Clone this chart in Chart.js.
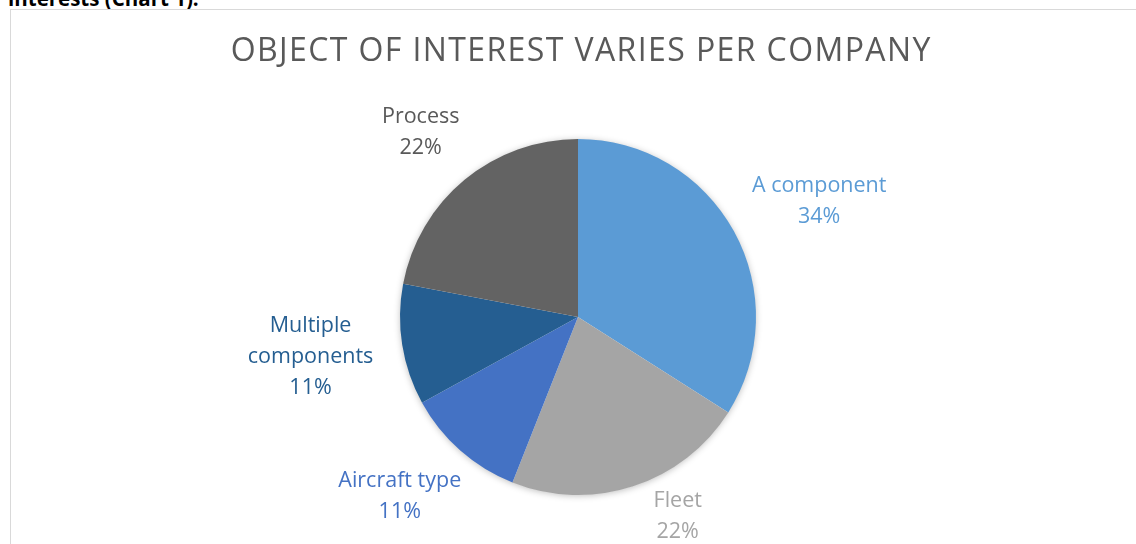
<!DOCTYPE html>
<html>
<head>
<meta charset="utf-8">
<script src="https://cdn.jsdelivr.net/npm/chart.js@4.4.1/dist/chart.umd.min.js"></script>
<style>
  html, body { margin: 0; padding: 0; background: #fff; overflow: hidden; }
  body { width: 1136px; height: 544px; position: relative; font-family: "Open Sans", sans-serif; }
  #lead { position: absolute; left: 8px; top: -16.4px; font-size: 20.5px; font-weight: bold; color: #000; white-space: nowrap; }
  #frame { position: absolute; left: 10px; top: 9px; width: 1140px; height: 560px; border: 1px solid #d9d9d9; box-sizing: border-box; }
  #wrap { position: absolute; left: 0; top: 0; width: 1136px; height: 544px; }
</style>
</head>
<body>
<div id="lead">interests (Chart 1).</div>
<div id="frame"></div>
<div id="wrap"><canvas id="pie"></canvas></div>
<script>
// Object of interest, share of companies
const categories = ['A component', 'Fleet', 'Aircraft type', 'Multiple components', 'Process'];
const shares = [34, 22, 11, 11, 22];
const sliceColors = ['#5B9BD5', '#A5A5A5', '#4472C4', '#255E91', '#636363'];
const labelColors = ['#5B9BD5', '#A5A5A5', '#4472C4', '#255E91', '#595959'];
const chartTitle = 'OBJECT OF INTEREST VARIES PER COMPANY';

const LABEL_FONT = '21.5px "Open Sans", sans-serif';
const LINE_H = 31;
const WRAP_W = 160;
const GAP = 30;

function wrapWords(ctx, text, maxW) {
  const words = text.split(' ');
  const lines = [];
  let cur = '';
  for (const w of words) {
    const t = cur ? cur + ' ' + w : w;
    if (cur && ctx.measureText(t).width > maxW) { lines.push(cur); cur = w; }
    else cur = t;
  }
  if (cur) lines.push(cur);
  return lines;
}

// chart heading, drawn with a little tracking
const heading = {
  id: 'heading',
  afterDraw(chart) {
    const ctx = chart.ctx;
    ctx.save();
    ctx.font = '32px "Open Sans", sans-serif';
    ctx.letterSpacing = '1.4px';
    ctx.fillStyle = '#595959';
    ctx.textAlign = 'center';
    ctx.textBaseline = 'alphabetic';
    ctx.fillText(chartTitle, 580.5 + 0.7, 61);
    ctx.restore();
  }
};

// soft drop shadow beneath the whole pie
const pieShadow = {
  id: 'pieShadow',
  beforeDatasetsDraw(chart) {
    const arc = chart.getDatasetMeta(0).data[0];
    if (!arc) return;
    const { x, y, outerRadius } = arc.getProps(['x', 'y', 'outerRadius'], true);
    const ctx = chart.ctx;
    ctx.save();
    ctx.shadowColor = 'rgba(0,0,0,0.28)';
    ctx.shadowBlur = 7;
    ctx.shadowOffsetY = 1;
    ctx.fillStyle = '#ffffff';
    ctx.beginPath();
    ctx.arc(x, y, outerRadius - 0.5, 0, Math.PI * 2);
    ctx.fill();
    ctx.restore();
  }
};

// category name + percentage placed outside each slice
const outsideLabels = {
  id: 'outsideLabels',
  afterDatasetsDraw(chart) {
    const ctx = chart.ctx;
    const meta = chart.getDatasetMeta(0);
    const data = chart.data.datasets[0].data;
    const total = data.reduce((a, b) => a + b, 0);
    const bottomLimit = chart.height + 3;
    ctx.save();
    ctx.font = LABEL_FONT;
    ctx.textAlign = 'center';
    ctx.textBaseline = 'middle';
    meta.data.forEach((arc, i) => {
      const p = arc.getProps(['x', 'y', 'startAngle', 'endAngle', 'outerRadius'], true);
      const mid = (p.startAngle + p.endAngle) / 2;
      let c = Math.cos(mid), s = Math.sin(mid);
      const lines = wrapWords(ctx, chart.data.labels[i], WRAP_W);
      lines.push(Math.round(data[i] / total * 100) + '%');
      const w = Math.max(...lines.map(l => ctx.measureText(l).width)) / 2;
      const h = lines.length * LINE_H / 2;
      const R = p.outerRadius + GAP;
      let cx = p.x + R * c + w * c;
      let cy = p.y + R * s + h * s;
      if (cy + h > bottomLimit) {
        // slide the label round the pie until it fits above the bottom edge
        cy = bottomLimit - h;
        const R2 = p.outerRadius + GAP / 2;
        s = Math.min(1, (cy - p.y) / (R2 + h));
        c = Math.sign(c) * Math.sqrt(1 - s * s);
        cx = p.x + (R2 + w) * c;
      }
      ctx.fillStyle = labelColors[i];
      lines.forEach((l, k) => {
        ctx.fillText(l, cx, cy - h + LINE_H * (k + 0.5));
      });
    });
    ctx.restore();
  }
};

new Chart(document.getElementById('pie'), {
  type: 'pie',
  data: {
    labels: categories,
    datasets: [{
      data: shares,
      backgroundColor: sliceColors,
      borderWidth: 0,
      hoverOffset: 0
    }]
  },
  options: {
    responsive: true,
    maintainAspectRatio: false,
    animation: false,
    layout: { padding: { top: 139, bottom: 49, left: 300, right: 280 } },
    plugins: {
      legend: { display: false },
      tooltip: { enabled: false },
      title: { display: false }
    }
  },
  plugins: [pieShadow, outsideLabels, heading]
});
</script>
</body>
</html>
